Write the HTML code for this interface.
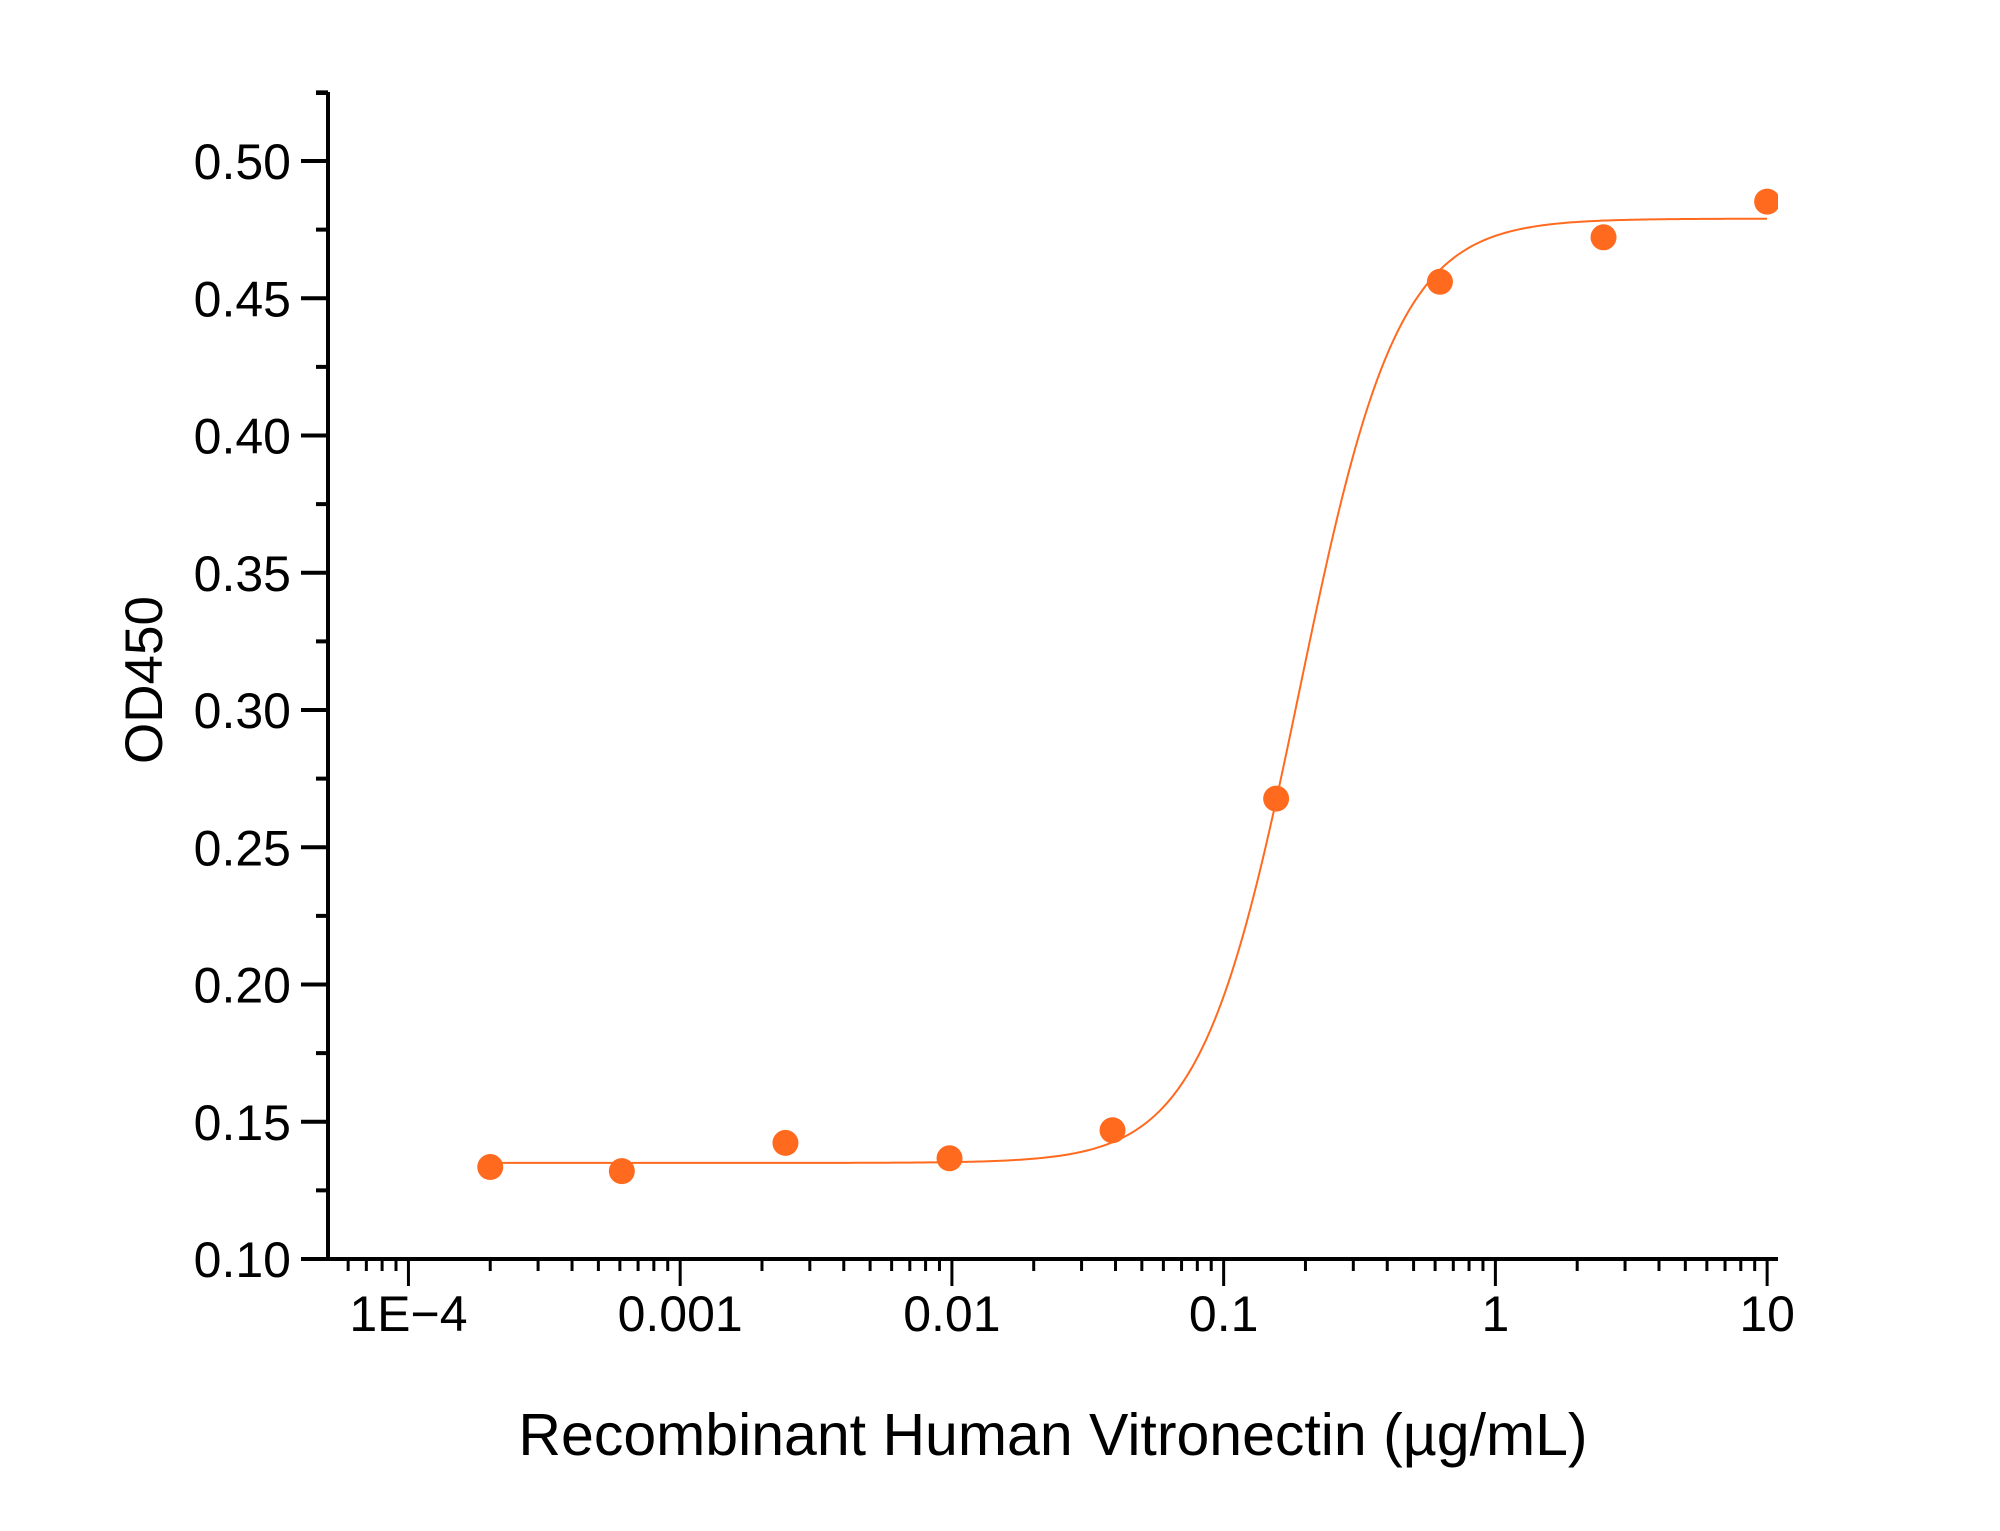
<!DOCTYPE html>
<html><head><meta charset="utf-8"><style>
html,body{margin:0;padding:0;background:#fff;}
svg{display:block;font-family:"Liberation Sans",sans-serif;}
</style></head><body>
<svg id="chart" width="2000" height="1531" viewBox="0 0 2000 1531" xmlns="http://www.w3.org/2000/svg">
<defs><clipPath id="plotclip"><rect x="328" y="80" width="1450" height="1190"/></clipPath></defs>
<g id="axes"></g>
<g id="series" clip-path="url(#plotclip)"></g>
<text x="0" y="0" transform="translate(162,680) rotate(-90)" text-anchor="middle" font-size="53" fill="#000">OD450</text>
<text x="1053" y="1455" text-anchor="middle" font-size="59" fill="#000">Recombinant Human Vitronectin (µg/mL)</text>
</svg>
<script>
const concentrations = [0.0002, 0.00061, 0.00244, 0.0098, 0.039, 0.156, 0.625, 2.5, 10];
const odValues = [0.1335, 0.132, 0.1423, 0.1367, 0.1469, 0.2677, 0.456, 0.4722, 0.4852];
const fitBottom = 0.135, fitTop = 0.479, fitEC50 = 0.19, fitHill = 2.4;
const yTicks = [0.10, 0.15, 0.20, 0.25, 0.30, 0.35, 0.40, 0.45, 0.50];
const yTickLabels = ["0.10","0.15","0.20","0.25","0.30","0.35","0.40","0.45","0.50"];
const xDecades = [-4, -3, -2, -1, 0, 1];
const xTickLabels = ["1E\u22124","0.001","0.01","0.1","1","10"];

const NS = "http://www.w3.org/2000/svg";
const X0 = 328, X1 = 1778, Y0 = 1259, YTOP = 92;
const LMIN = -4.296, LMAX = 1.04;
const VMIN = 0.10, VMAX = 0.50, YV = 161;
function xs(v){ return X0 + (Math.log10(v) - LMIN) / (LMAX - LMIN) * (X1 - X0); }
function xsl(l){ return X0 + (l - LMIN) / (LMAX - LMIN) * (X1 - X0); }
function ys(v){ return Y0 - (v - VMIN) / (VMAX - VMIN) * (Y0 - YV); }
function mk(tag, attrs, parent){ const e = document.createElementNS(NS, tag); for (const k in attrs) e.setAttribute(k, attrs[k]); parent.appendChild(e); return e; }

const axes = document.getElementById('axes');
const ya = mk('line', {x1:X0, y1:YTOP, x2:X0, y2:Y0+2, stroke:'#000','stroke-width':4}, axes);


const xa = mk('line', {x1:X0-2, y1:Y0, x2:X1, y2:Y0, stroke:'#000','stroke-width':4}, axes);



yTicks.forEach((v, i) => {
  const y = ys(v);
  mk('line', {x1:X0-27, y1:y, x2:X0, y2:y, stroke:'#000','stroke-width':4}, axes);
  const t = mk('text', {x:291, y:y+18, 'text-anchor':'end', 'font-size':50, fill:'#000'}, axes);
  t.textContent = yTickLabels[i];
  
  
  const ym = ys(v + 0.025);
  if (ym >= YTOP) mk('line', {x1:X0-12, y1:ym, x2:X0, y2:ym, stroke:'#000','stroke-width':4}, axes);
});
mk('line', {x1:X0-12, y1:YTOP+1, x2:X0, y2:YTOP+1, stroke:'#000','stroke-width':4}, axes);

for (let d = -5; d <= 1; d++) {
  for (let m = 1; m <= 9; m++) {
    const l = d + Math.log10(m);
    if (l < LMIN || l > LMAX) continue;
    const x = xsl(l);
    mk('line', {x1:x, y1:Y0, x2:x, y2:Y0 + (m === 1 ? 27 : 12), stroke:'#000','stroke-width':3}, axes);
  }
}
xDecades.forEach((d, i) => {
  const t = mk('text', {x:xsl(d), y:1331, 'text-anchor':'middle', 'font-size':50, fill:'#000'}, axes);
  t.textContent = xTickLabels[i];
  
  
});

const series = document.getElementById('series');
function fit(c){ return fitBottom + (fitTop - fitBottom) / (1 + Math.pow(fitEC50 / c, fitHill)); }
const lmin = Math.log10(concentrations[0]), lmax = Math.log10(concentrations[concentrations.length-1]);
let d = '';
for (let i = 0; i <= 400; i++) {
  const l = lmin + (lmax - lmin) * i / 400;
  const c = Math.pow(10, l);
  d += (i ? 'L' : 'M') + xs(c).toFixed(2) + ',' + ys(fit(c)).toFixed(2);
}
const curve = mk('path', {d:d, fill:'none', stroke:'#ff6a1f', 'stroke-width':2}, series);



concentrations.forEach((c, i) => {
  const p = mk('circle', {cx:xs(c), cy:ys(odValues[i]), r:13, fill:'#ff6a1f'}, series);
  
  
});
</script>
</body></html>
